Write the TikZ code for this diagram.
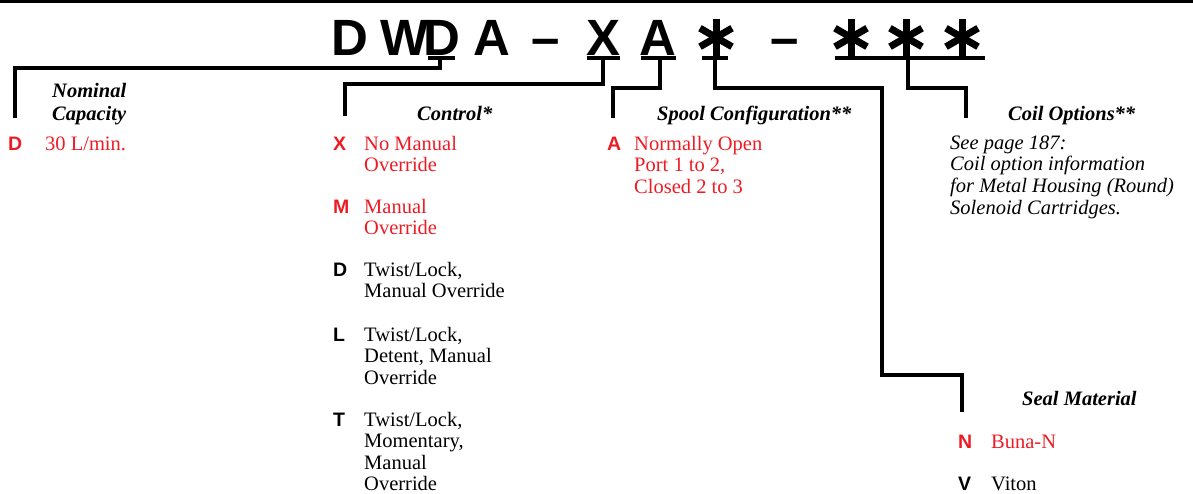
\documentclass[tikz,border=0pt]{standalone}
\usepackage{fontspec}
\setmainfont{Liberation Serif}
\setsansfont{Liberation Sans}
\usetikzlibrary{calc}
\definecolor{optred}{RGB}{237,28,36}

\begin{document}
\begin{tikzpicture}[x=1pt,y=-1pt,
    code/.style={font=\sffamily\bfseries\fontsize{51}{51}\selectfont, inner sep=0pt, anchor=base},
    letter/.style={font=\sffamily\bfseries\fontsize{19.5}{21.5}\selectfont, inner sep=0pt, anchor=base west},
    desc/.style={font=\fontsize{20.5}{21.5}\selectfont, inner sep=0pt, anchor=base west, align=left},
    head/.style={font=\bfseries\itshape\fontsize{20.5}{23}\selectfont, inner sep=0pt, anchor=base west, align=left},
    conn/.style={line width=3.2pt},
    uline/.style={line width=3.2pt}]
    \useasboundingbox (0,0) rectangle (1193,493);
    \draw[line width=3.5pt] (0,1) -- (1193,1);

    % model code
    \node[code] (cD1) at (350,55) {D};
    \node[code] (cW) at (405,55) {W};
    \node[code] (cD2) at (442,55) {D};
    \node[code] (cA1) at (492,55) {A};
    \node[code] (cM1) at (546,55) {--};
    \node[code] (cX) at (603,55) {X};
    \node[code] (cA2) at (658,55) {A};
    \node[code] (cS1) at (716,55) {\phantom{X}};
    \node[code] (cM2) at (785,55) {--};
    \node[code] (cS2) at (851,55) {\phantom{X}};
    \node[code] (cS3) at (906,55) {\phantom{X}};
    \node[code] (cS4) at (962,55) {\phantom{X}};
    \foreach \s in {cS1,cS2,cS3,cS4} {
        \foreach \a in {90,30,-30}
            \draw[line width=7pt] ($(\s)+(\a:18.5)$) -- ($(\s)+(\a+180:18.5)$);
    }

    % underlines and taps
    \draw[uline] (428,58) -- (455,58);
    \draw[uline] (587,58) -- (620,58);
    \draw[uline] (641,58) -- (676,58);
    \draw[uline] (702,58) -- (728,58);
    \draw[uline] (835,58) -- (985,58);
    \coordinate (tapD) at (440,58);
    \coordinate (tapX) at (603,58);
    \coordinate (tapA) at (660,58);
    \coordinate (tapS) at (715,58);
    \coordinate (tapC) at (908,58);
    \coordinate (endCap) at (15,118);
    \coordinate (endCtl) at (345,116);
    \coordinate (endSpool) at (613,118);
    \coordinate (endCoil) at (966,118);
    \coordinate (endSeal) at (962,412);
    \draw[conn] (tapD) -- ++(0,10) -| (endCap);
    \draw[conn] (tapX) -- ++(0,26) -| (endCtl);
    \draw[conn] (tapA) -- ++(0,30) -| (endSpool);
    \draw[conn] (tapS) -- ++(0,30) -| (882,375) -| (endSeal);
    \draw[conn] (tapC) -- ++(0,30) -| (endCoil);

    % nominal capacity (base = last line)
    \node[head] (hCap) at (52,120) {Nominal\\Capacity};
    \node[letter, optred] (kD) at (8,150) {D};
    \node[desc, optred] (tD) at (45,150) {30 L/min.};

    % control
    \node[head] (hCtl) at (417,120) {Control*};
    \node[letter, optred] (kX) at (333,150) {X};
    \node[desc, optred] (tX) at (364,171.5) {No Manual\\Override};
    \node[letter, optred] (kM) at (333,213) {M};
    \node[desc, optred] (tM) at (364,234.5) {Manual\\Override};
    \node[letter] (kDl) at (333,276) {D};
    \node[desc] (tDl) at (364,297.5) {Twist/Lock,\\Manual Override};
    \node[letter] (kL) at (333,341) {L};
    \node[desc] (tL) at (364,384) {Twist/Lock,\\Detent, Manual\\Override};
    \node[letter] (kT) at (333,426) {T};
    \node[desc] (tT) at (364,490.5) {Twist/Lock,\\Momentary,\\Manual\\Override};

    % spool
    \node[head] (hSpool) at (657,120) {Spool Configuration**};
    \node[letter, optred] (kA) at (607,150) {A};
    \node[desc, optred] (tA) at (634,193) {Normally Open\\Port 1 to 2,\\Closed 2 to 3};

    % coil
    \node[head] (hCoil) at (1008,120) {Coil Options**};
    \node[desc, font=\itshape\fontsize{20.5}{21.8}\selectfont] (tCoil) at (950,214.5)
        {See page 187:\\Coil option information\\for Metal Housing (Round)\\Solenoid Cartridges.};

    % seal
    \node[head] (hSeal) at (1022,405) {Seal Material};
    \node[letter, optred] (kN) at (958,448) {N};
    \node[desc, optred] (tN) at (991,448) {Buna-N};
    \node[letter] (kV) at (958,490) {V};
    \node[desc] (tV) at (991,490) {Viton};
\end{tikzpicture}
\end{document}
